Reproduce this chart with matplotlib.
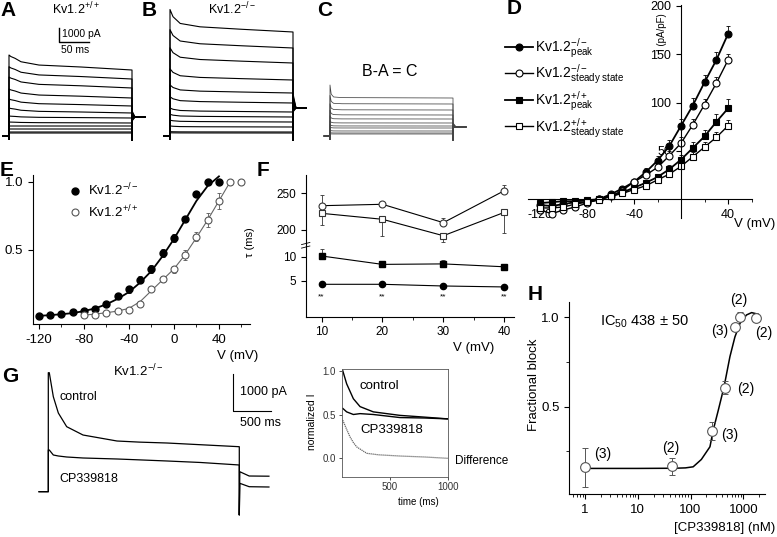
import numpy as np
import matplotlib
matplotlib.use("Agg")
import matplotlib.pyplot as plt
from matplotlib.ticker import MultipleLocator, LogLocator, NullFormatter

plt.rcParams['font.family'] = ['Liberation Sans', 'DejaVu Sans']
plt.rcParams['mathtext.fontset'] = 'custom'
plt.rcParams['mathtext.rm'] = 'Liberation Sans'
plt.rcParams['mathtext.it'] = 'Liberation Sans:italic'
plt.rcParams['mathtext.bf'] = 'Liberation Sans:bold'
plt.rcParams['axes.unicode_minus'] = False
plt.rcParams['axes.linewidth'] = 0.8
plt.rcParams['xtick.major.width'] = 0.8
plt.rcParams['ytick.major.width'] = 0.8
plt.rcParams['xtick.major.size'] = 3.5
plt.rcParams['ytick.major.size'] = 3.5
plt.rcParams['xtick.minor.size'] = 2
plt.rcParams['ytick.minor.size'] = 2

#--------------------------------------- data -----------------------------------------------
# A-C current families (pA), shape = fraction of (peak - end) left at each time knot (ms)
STEP_MS = 205
A_t = [0, 3, 10, 20, 50, 120, 205]
A_shape = [1, 0.9, 0.78, 0.55, 0.33, 0.2, 0]
A_peak = [5786, 4950, 4214, 3357, 2643, 2000, 1429, 1000, 714, 500, 286, 214]
A_end = [4714, 4071, 3429, 2714, 2143, 1643, 1286, 929, 714, 500, 286, 214]
A_tail0 = [1750, 1650, 1550, 1500, 1450, 1400, 1350, 1300, 1250, 1200, 1150, 1100]
A_tail = 1357

B_t = [0, 5, 17, 50, 120, 205]
B_shape = [1, 0.68, 0.38, 0.23, 0.12, 0]
B_peak = [9036, 7600, 6300, 4800, 3650, 2800, 2000, 1550, 1130, 720, 310, 230]
B_end = [7429, 6286, 5214, 4000, 3071, 2357, 1714, 1357, 1000, 643, 286, 214]
B_tail0 = [2900, 2750, 2600, 2450, 2300, 2200, 2100, 2000, 1900, 1850, 1800, 1750]
B_tail = 2000

C_t = [0, 2, 6, 20, 205]
C_shape = [1, 0.3, 0.08, 0.03, 0]
C_peak = [3643, 2900, 2300, 1850, 1450, 1100, 830, 650, 420, 250, 160]
C_end = [2714, 2286, 1857, 1500, 1214, 929, 714, 571, 357, 214, 143]
C_tail0 = [900, 850, 800, 760, 720, 690, 660, 640, 620, 600, 580]
C_tail = 643

# D: I-V (pA/pF)
D_V = list(range(-120, 41, 10))
D_ko_pk = [-6, -7, -5, -3, -3, 0, 5, 11, 18, 28, 40, 55, 76, 97, 121, 144, 171]
D_ko_ss = [-11, -15, -11, -8, -4, 0, 3, 9, 18, 25, 33, 45, 58, 77, 98, 120, 144]
D_wt_pk = [-4, -3, -2, -2, -1, 0, 3, 7, 12, 17, 23, 31, 41, 53, 65, 80, 94]
D_wt_ss = [-9, -9, -8, -5, -3, -1, 3, 6, 10, 14, 20, 26, 34, 44, 54, 64, 76]
D_ko_pk_err = [2, 2, 1, 1, 1, 1, 1, 2, 3, 4, 5, 6, 7, 8, 8, 8, 8]
D_ko_ss_err = [2, 2, 1, 1, 1, 1, 1, 2, 3, 3, 4, 5, 6, 6, 6, 6, 6]
D_wt_pk_err = [1, 1, 1, 1, 1, 1, 1, 2, 2, 3, 3, 4, 5, 6, 7, 8, 10]
D_wt_ss_err = [1, 1, 1, 1, 1, 1, 1, 2, 2, 2, 3, 3, 4, 5, 5, 6, 6]

# E: normalized conductance
E_V_ko = list(range(-120, 41, 10))
E_ko = [0.015, 0.02, 0.03, 0.044, 0.053, 0.066, 0.10, 0.163, 0.21, 0.28, 0.36, 0.475,
        0.585, 0.73, 0.91, 1.0, 1.0]
E_ko_err = [0, 0, 0.005, 0.005, 0.005, 0.008, 0.01, 0.02, 0.025, 0.025, 0.03, 0.03,
            0.03, 0.02, 0.02, 0.01, 0.01]
E_V_wt = list(range(-80, 61, 10))
E_wt = [0.018, 0.022, 0.035, 0.047, 0.055, 0.105, 0.21, 0.283, 0.356, 0.463, 0.597,
        0.72, 0.86, 1.0, 1.0]
E_wt_err = [0, 0, 0.005, 0.005, 0.005, 0.01, 0.015, 0.02, 0.025, 0.035, 0.035, 0.05,
            0.06, 0.02, 0]
E_fit_ko = [0.015, 0.02, 0.027, 0.035, 0.05, 0.07, 0.10, 0.14, 0.19, 0.26, 0.345, 0.455,
            0.58, 0.72, 0.86, 0.97, 1.04]
E_fitV_wt = list(range(-80, 51, 10))
E_fit_wt = [0.02, 0.028, 0.038, 0.05, 0.07, 0.12, 0.2, 0.28, 0.36, 0.465, 0.59, 0.72,
            0.86, 1.0]

# F: inactivation time constants (ms)
F_V = [10, 20, 30, 40]
F_ko_ss = [233.1, 235, 210, 253.5]
F_ko_ss_err = [14.6, 0, 7, 8]
F_wt_ss = [222.7, 214.6, 192.2, 224]
F_wt_ss_err = [16, 23, 9, 28]
F_wt_pk = [10.15, 8.4, 8.5, 7.9]
F_wt_pk_err = [1.4, 0, 0.9, 0]
F_ko_pk = [4.25, 4.25, 3.9, 3.7]

# G: Kv1.2-/- currents, control and CP339818 (pA)
G_t = [0, 13, 66, 132, 242, 457, 904, 1200, 1562, 2000, 2513]
G_ctrl = [3216, 3216, 2568, 2127, 1757, 1532, 1370, 1340, 1316, 1270, 1216]
G_cp = [1127, 1127, 992, 965, 938, 911, 884, 860, 830, 790, 722]
G_ctrl_tail = [540, 424, 419]
G_cp_tail = [227, 135, 127]

# G inset: normalized currents
Gi_t = [91, 125, 183, 241, 356, 587, 800, 1000]
Gi_ctrl = [1.0, 0.85, 0.68, 0.59, 0.53, 0.49, 0.47, 0.45]
Gi_cp = [0.57, 0.53, 0.50, 0.51, 0.50, 0.465, 0.46, 0.45]
Gi_dt = [91, 125, 154, 183, 212, 299, 400, 587, 800, 1000]
Gi_diff = [0.435, 0.33, 0.245, 0.18, 0.13, 0.057, 0.04, 0.026, 0.015, 0.0]

# H: dose response
H_conc = [1, 45, 260, 440, 690, 875, 1730]
H_block = [0.161, 0.166, 0.366, 0.606, 0.944, 1.003, 0.998]
H_err = [0.11, 0.045, 0.05, 0.035, 0.02, 0.025, 0.015]
H_n = ['(3)', '(2)', '(3)', '(2)', '(3)', '(2)', '(2)']
H_n_off = [(12.6, 9.6), (-1.2, 13), (12.5, -3.1), (15, -1), (-11, -2.7), (-1.4, 12), (5.4, -11)]
H_fit_conc = [1, 10, 50, 80, 112, 160, 233, 269, 335, 430, 557, 692, 863, 1148, 1435, 1905]
H_fit = [0.155, 0.155, 0.156, 0.158, 0.164, 0.205, 0.276, 0.37, 0.48, 0.61, 0.78, 0.89,
         0.966, 1.013, 1.026, 1.017]

#--------------------------------------- helpers --------------------------------------------
W, H = 777, 537
fig = plt.figure(figsize=(W / 100, H / 100), dpi=100)


def px_rect(x0, y0, x1, y1):
    return [x0 / W, 1 - y1 / H, (x1 - x0) / W, (y1 - y0) / H]


def ftext(x, y, s, **kw):
    kw.setdefault('va', 'center')
    fig.text(x / W, 1 - y / H, s, **kw)


def trace_axes(box, origin, px_ms, px_pa):
    x0, y0, x1, y1 = box
    ox, oy = origin
    ax = fig.add_axes(px_rect(*box))
    ax.set_xlim((x0 - ox) / px_ms, (x1 - ox) / px_ms)
    ax.set_ylim((oy - y1) / px_pa, (oy - y0) / px_pa)
    ax.axis('off')
    return ax


def family(ax, t_k, shape, peaks, ends, tails0, tail, color, lw):
    for p, e, t0 in zip(peaks, ends, tails0):
        v_k = [e + (p - e) * f for f in shape]
        t = [-10, 0, 0] + t_k + [STEP_MS, STEP_MS + 0.6, STEP_MS + 5, STEP_MS + 22]
        v = [0, 0, -250] + v_k + [-300, t0, tail, tail]
        ax.plot(t, v, color=color, lw=lw)


def spines(ax, keep=('left', 'bottom')):
    for s in ax.spines:
        ax.spines[s].set_visible(s in keep)


def letter(x, y, s):
    ftext(x, y, s, fontsize=15, fontweight='bold', ha='left')

#--------------------------------------- A B C ----------------------------------------------
ax_a = trace_axes((0, 20, 150, 145), (9, 136), 0.6, 0.014)
family(ax_a, A_t, A_shape, A_peak, A_end, A_tail0, A_tail, 'k', 0.8)
ax_a.plot([83.3, 83.3, 133.3], [7714, 6714, 6714], color='k', lw=1, clip_on=False)
ax_b = trace_axes((150, 0, 316, 145), (170, 136), 0.6, 0.014)
family(ax_b, B_t, B_shape, B_peak, B_end, B_tail0, B_tail, 'k', 0.8)
ax_c = trace_axes((316, 60, 470, 145), (330, 136), 0.6, 0.014)
family(ax_c, C_t, C_shape, C_peak, C_end, C_tail0, C_tail, '#444444', 0.55)

letter(0, 10, 'A')
letter(142, 10, 'B')
letter(317, 10, 'C')
ftext(76, 9, r'Kv1.2$^{+/+}$', fontsize=9, ha='center')
ftext(232, 9, r'Kv1.2$^{-/-}$', fontsize=9, ha='center')
ftext(62, 34, '1000 pA', fontsize=7.5, ha='left')
ftext(61, 50, '50 ms', fontsize=7.5, ha='left')
ftext(390, 72, 'B-A = C', fontsize=11.5, ha='center')

#--------------------------------------- D --------------------------------------------------
ax_d = fig.add_axes(px_rect(528, 5, 752, 218))
ax_d.set_xlim(-130.2, 60.4)
ax_d.set_ylim(-19.4, 201)
spines(ax_d)
ax_d.spines['left'].set_position(('data', 0))
ax_d.spines['bottom'].set_position(('data', 0))
series = [(D_ko_pk, D_ko_pk_err, 'o', 'k', 1.3), (D_ko_ss, D_ko_ss_err, 'o', 'white', 1.0),
          (D_wt_pk, D_wt_pk_err, 's', 'k', 1.3), (D_wt_ss, D_wt_ss_err, 's', 'white', 1.0)]
handles = []
for vals, err, mk, fc, lw in series:
    ax_d.errorbar(D_V, vals, yerr=[np.zeros(len(err)), err], fmt='none', ecolor='k',
                  elinewidth=0.6, capsize=1.5, capthick=0.6)
    h, = ax_d.plot(D_V, vals, '-' + mk, color='k', mfc=fc, mec='k', ms=5, lw=lw, mew=0.8)
    handles.append(h)
ax_d.set_xticks([-120, -80, -40, 40])
ax_d.xaxis.set_minor_locator(MultipleLocator(20))
ax_d.set_yticks([50, 100, 150, 200])
ax_d.tick_params(labelsize=9)
ax_d.legend(handles, [r'Kv1.2$^{-/-}_{\mathrm{peak}}$', r'Kv1.2$^{-/-}_{\mathrm{steady\ state}}$',
                      r'Kv1.2$^{+/+}_{\mathrm{peak}}$', r'Kv1.2$^{+/+}_{\mathrm{steady\ state}}$'],
            loc='upper left', bbox_to_anchor=(505 / W, 1 - 36 / H), bbox_transform=fig.transFigure,
            frameon=False, fontsize=10, handlelength=2.0, handletextpad=0.15,
            labelspacing=0.2, borderpad=0, borderaxespad=0)
letter(507, 9, 'D')
ftext(662, 32, 'I (pA/pF)', fontsize=7, rotation=90, ha='center')
ftext(775, 224, 'V (mV)', fontsize=9.5, ha='right')

#--------------------------------------- E --------------------------------------------------
ax_e = fig.add_axes(px_rect(33, 175, 250, 324))
ax_e.set_xlim(-125.3, 67.6)
ax_e.set_ylim(-0.045, 1.05)
spines(ax_e)
ax_e.plot(E_V_ko, E_fit_ko, color='k', lw=1.3)
ax_e.plot(E_fitV_wt, E_fit_wt, color='#666666', lw=0.8)
ax_e.errorbar(E_V_ko, E_ko, yerr=E_ko_err, fmt='none', ecolor='k', elinewidth=0.6,
              capsize=1.5, capthick=0.6)
ax_e.errorbar(E_V_wt, E_wt, yerr=E_wt_err, fmt='none', ecolor='#555555', elinewidth=0.6,
              capsize=1.5, capthick=0.6)
he1, = ax_e.plot(E_V_ko, E_ko, 'o', color='k', ms=5, clip_on=False)
he2, = ax_e.plot(E_V_wt, E_wt, 'o', mfc='white', mec='#555555', ms=5, mew=0.8, clip_on=False)
ax_e.set_xticks([-120, -80, -40, 0, 40])
ax_e.xaxis.set_minor_locator(MultipleLocator(20))
ax_e.set_yticks([0.5, 1.0], labels=['0.5', '1.0'])
ax_e.tick_params(labelsize=9.5)
ax_e.legend([he1, he2], [r'Kv1.2$^{-/-}$', r'Kv1.2$^{+/+}$'], loc='upper left',
            bbox_to_anchor=(70 / W, 1 - 182 / H), bbox_transform=fig.transFigure,
            frameon=False, fontsize=9.5, handlelength=0.8, handletextpad=0.6,
            labelspacing=0.35, borderpad=0, borderaxespad=0)
letter(0, 170, 'E')
ftext(258, 356, 'V (mV)', fontsize=9.5, ha='right')

#--------------------------------------- F --------------------------------------------------
ax_fu = fig.add_axes(px_rect(305.7, 175, 514, 246))
ax_fl = fig.add_axes(px_rect(305.7, 246, 514, 316.7))
for ax in (ax_fu, ax_fl):
    ax.set_xlim(7.4, 41.6)
    ax.tick_params(labelsize=8.5)
ax_fu.set_ylim(178.2, 274.9)
ax_fl.set_ylim(-2.5, 12.23)
spines(ax_fu, ('left',))
spines(ax_fl)
ax_fu.tick_params(bottom=False, labelbottom=False)
ax_fu.set_yticks([200, 250])
ax_fl.set_yticks([5, 10])
ax_fl.set_xticks([10, 20, 30, 40])
ax_fl.xaxis.set_minor_locator(MultipleLocator(5))

ax_fu.errorbar(F_V, F_ko_ss, yerr=[np.zeros(4), F_ko_ss_err], fmt='none', ecolor='#333333',
               elinewidth=0.6, capsize=1.5, capthick=0.6)
ax_fu.errorbar(F_V, F_wt_ss, yerr=[F_wt_ss_err, np.zeros(4)], fmt='none', ecolor='#333333',
               elinewidth=0.6, capsize=1.5, capthick=0.6)
ax_fu.plot(F_V, F_ko_ss, '-o', color='k', mfc='white', mec='#333333', ms=5, lw=0.8, mew=0.8)
ax_fu.plot(F_V, F_wt_ss, '-s', color='k', mfc='white', mec='#333333', ms=5, lw=0.8, mew=0.8)
ax_fl.errorbar(F_V, F_wt_pk, yerr=[np.zeros(4), F_wt_pk_err], fmt='none', ecolor='#333333',
               elinewidth=0.6, capsize=1.5, capthick=0.6)
ax_fl.plot(F_V, F_wt_pk, '-s', color='k', ms=4.5, lw=0.8)
ax_fl.plot(F_V, F_ko_pk, '-o', color='k', ms=4.5, lw=0.8)
for v in F_V:
    ax_fl.text(v, 1.7, '**', ha='center', va='center', fontsize=6)
for dy in (0.0, 0.05):
    ax_fl.plot([-0.02, 0.02], [0.97 + dy, 1.0 + dy], transform=ax_fl.transAxes, color='k',
               lw=0.6, clip_on=False)
letter(257, 170, 'F')
ftext(250, 242, 'τ (ms)', fontsize=8, rotation=90, ha='center')
ftext(494, 348, 'V (mV)', fontsize=9.5, ha='right')

#--------------------------------------- G --------------------------------------------------
ax_g = trace_axes((30, 362, 282, 522), (48.3, 491.7), 0.076, 0.037)
end = G_t[-1]
pre_t = [-122, 0]
post_t = [end, end + 7, end + 130, end + 390]
ax_g.plot(pre_t + G_t + post_t, [0, 0] + G_ctrl + [-630] + G_ctrl_tail, color='k', lw=0.9)
ax_g.plot(pre_t + G_t + post_t, [0, 0] + G_cp + [-630] + G_cp_tail, color='k', lw=0.9)
ax_g.plot([2430, 2430, 2930], [3181, 2181, 2181], color='k', lw=0.8, clip_on=False)
letter(2, 377, 'G')
ftext(138, 371, r'Kv1.2$^{-/-}$', fontsize=9.5, ha='center')
ftext(59, 397, 'control', fontsize=9, ha='left')
ftext(59, 479, 'CP339818', fontsize=9, ha='left')
ftext(240, 392, '1000 pA', fontsize=9, ha='left')
ftext(240, 423, '500 ms', fontsize=9, ha='left')

ax_gi = fig.add_axes(px_rect(341.7, 369.3, 447.7, 476.7))
ax_gi.set_xlim(82, 1000)
ax_gi.set_ylim(-0.21, 1.016)
for s in ax_gi.spines.values():
    s.set_linewidth(0.6)
    s.set_color('#555555')
ax_gi.plot(Gi_t, Gi_ctrl, color='k', lw=1.0)
ax_gi.plot(Gi_t, Gi_cp, color='k', lw=1.0)
ax_gi.plot(Gi_dt, Gi_diff, color='#666666', lw=0.9, ls=(0, (1, 0.6)))
ax_gi.set_xticks([500, 1000])
ax_gi.set_yticks([0, 0.5, 1.0], labels=['0.0', '0.5', '1.0'])
ax_gi.tick_params(labelsize=7, length=2, width=0.6, pad=2, colors='#333333')
ftext(360, 386, 'control', fontsize=9.5, ha='left')
ftext(360, 430, 'CP339818', fontsize=9.5, ha='left')
ftext(455, 461, 'Difference', fontsize=8.5, ha='left')
ftext(418, 502, 'time (ms)', fontsize=7, ha='center')
ftext(312, 422, 'normalized I', fontsize=7.5, rotation=90, ha='center')

#--------------------------------------- H --------------------------------------------------
ax_h = fig.add_axes(px_rect(569.3, 301.7, 765, 494))
ax_h.set_xscale('log')
ax_h.set_xlim(0.505, 2570)
ax_h.set_ylim(0.012, 1.087)
spines(ax_h)
ax_h.plot(H_fit_conc, H_fit, color='k', lw=1.1)
ax_h.errorbar(H_conc, H_block, yerr=H_err, fmt='none', ecolor='#555555', elinewidth=0.7,
              capsize=2, capthick=0.7)
ax_h.plot(H_conc, H_block, 'o', mfc='white', mec='#555555', ms=7, mew=0.8)
for c, b, n, off in zip(H_conc, H_block, H_n, H_n_off):
    ax_h.annotate(n, (c, b), xytext=off, textcoords='offset points', ha='center',
                  va='center', fontsize=10)
ax_h.set_xticks([1, 10, 100, 1000], labels=['1', '10', '100', '1000'])
ax_h.xaxis.set_minor_locator(LogLocator(base=10, subs=np.arange(2, 10), numticks=10))
ax_h.xaxis.set_minor_formatter(NullFormatter())
ax_h.set_yticks([0.5, 1.0], labels=['0.5', '1.0'])
ax_h.set_yticks([0.25, 0.75], minor=True)
ax_h.tick_params(labelsize=9.5)
letter(528, 295, 'H')
ftext(600, 322, r'IC$_{50}$ 438 ± 50', fontsize=10.5, ha='left')
ftext(534, 385, 'Fractional block', fontsize=9.5, rotation=90, ha='center')
ftext(775, 528, '[CP339818] (nM)', fontsize=9.5, ha='right')

fig.savefig('out.png', dpi=100)
